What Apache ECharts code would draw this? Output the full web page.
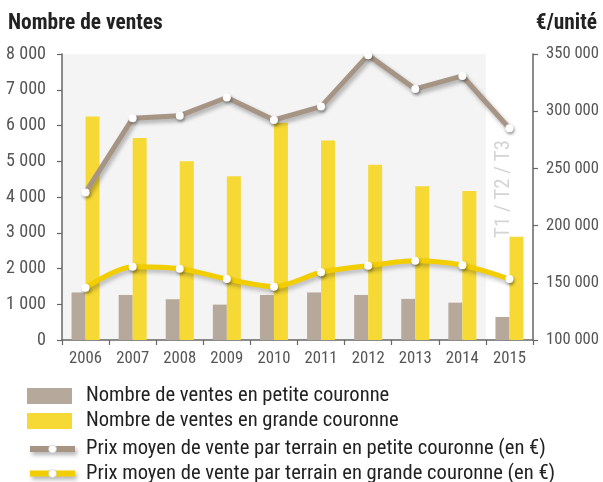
<!DOCTYPE html>
<html>
<head>
<meta charset="utf-8">
<script src="https://cdn.jsdelivr.net/npm/echarts@6/dist/echarts.min.js"></script>
<style>
html,body{margin:0;padding:0;background:#fff;}
#c{width:603px;height:482px;}
</style>
</head>
<body>
<div id="c"></div>
<script>
var years = ['2006','2007','2008','2009','2010','2011','2012','2013','2014','2015'];
var ventesPetite = [1330,1260,1140,990,1260,1330,1260,1150,1045,645];
var ventesGrande = [6250,5650,5000,4580,6080,5580,4900,4300,4170,2885];
var prixPetite = [229000,293800,296100,312000,292300,304000,349000,319400,330800,285000];
var prixGrande = [145700,164100,162300,153300,146600,159200,165000,169300,165300,153300];
var leftTicks = {min:0, max:8000, interval:1000};
var rightTicks = {min:100000, max:350000, interval:50000};

var FONT = "'Liberation Sans Narrow','Roboto Condensed',Roboto,sans-serif";
function fmt(v){ return String(v).replace(/\B(?=(\d{3})+(?!\d))/g, ' '); }

// choose a font size so that a text gets the width it has in the reference
var mctx = document.createElement('canvas').getContext('2d');
function fit(text, weight, target){
  mctx.font = weight + ' 100px ' + FONT;
  return Math.round(100 * target / mctx.measureText(text).width * 10) / 10;
}

var names = [
  'Nombre de ventes en petite couronne',
  'Nombre de ventes en grande couronne',
  'Prix moyen de vente par terrain en petite couronne (en €)',
  'Prix moyen de vente par terrain en grande couronne (en €)'
];
var shadeColors = [];
for (var i = 0; i < years.length - 1; i++) shadeColors.push('#f4f4f4');
shadeColors.push('rgba(255,255,255,0)');

var titleSize = fit('Nombre de ventes', 'bold', 155);
var leftSize = fit('8 000', 'normal', 40);
var rightSize = fit('350 000', 'normal', 53);
var xSize = fit('2006', 'normal', 33);
var legendSize = fit(names[3], 'normal', 470);
var tSize = fit('T1 / T2 / T3', 'normal', 98);

var lineShadow = {shadowColor:'rgba(0,0,0,0.3)', shadowBlur:4, shadowOffsetX:2, shadowOffsetY:3};
var legendRows = [393.5, 418.5, 443.5, 468];
var legendItems = [
  {name:names[0], icon:'rect'},
  {name:names[1], icon:'rect'},
  {name:names[2], lineStyle:Object.assign({width:6, color:'#a69585'}, lineShadow),
   itemStyle:{color:'#fff', borderColor:'#bbb', borderWidth:0.5}},
  {name:names[3], lineStyle:Object.assign({width:6, color:'#f2ce00'}, lineShadow),
   itemStyle:{color:'#fff', borderColor:'#bbb', borderWidth:0.5}}
];
var legends = legendItems.map(function(item, k){
  var h = k < 2 ? 16 : 10;
  return {
    orient:'vertical', left:27, top:legendRows[k] - h / 2, padding:0,
    itemWidth:45, itemHeight:h,
    textStyle:{fontFamily:FONT, fontSize:legendSize, lineHeight:h, color:'#222',
               padding:[0,0,0,k < 2 ? 9 : 6], verticalAlign:'middle'},
    data:[item]
  };
});

var chart = echarts.init(document.getElementById('c'), null, {renderer:'canvas'});
chart.setOption({
  animation:false,
  textStyle:{fontFamily:FONT},
  title:[
    {text:'Nombre de ventes', left:8, top:13, padding:0,
     textStyle:{fontFamily:FONT, fontWeight:'bold', fontSize:titleSize, color:'#222'}},
    {text:'€/unité', right:6, top:13, padding:0,
     textStyle:{fontFamily:FONT, fontWeight:'bold', fontSize:titleSize, color:'#222'}}
  ],
  grid:{left:62, right:70, top:54, bottom:142, containLabel:false},
  legend:legends,
  graphic:[{
    type:'text', x:504, y:189, rotation:Math.PI/2, z:100,
    style:{text:'T1 / T2 / T3', fontFamily:FONT, fontSize:tSize, fill:'#d4d4d4',
           align:'center', verticalAlign:'middle'}
  }],
  xAxis:{
    type:'category', data:years, boundaryGap:true,
    axisLine:{lineStyle:{color:'#666', width:1.5}},
    axisTick:{show:true, length:5, lineStyle:{color:'#666', width:1.2}},
    axisLabel:{fontFamily:FONT, fontSize:xSize, color:'#555', margin:10, interval:0},
    splitArea:{show:true, areaStyle:{color:shadeColors}},
    splitLine:{show:false}
  },
  yAxis:[
    {type:'value', min:leftTicks.min, max:leftTicks.max, interval:leftTicks.interval,
     axisLine:{show:true, lineStyle:{color:'#666', width:1.5}},
     axisTick:{show:true, length:5, lineStyle:{color:'#666', width:1.2}},
     axisLabel:{fontFamily:FONT, fontSize:leftSize, color:'#555', margin:16, formatter:fmt},
     splitLine:{show:false}},
    {type:'value', position:'right', min:rightTicks.min, max:rightTicks.max, interval:rightTicks.interval,
     axisLine:{show:true, lineStyle:{color:'#666', width:1.5}},
     axisTick:{show:true, length:5, lineStyle:{color:'#666', width:1.2}},
     axisLabel:{fontFamily:FONT, fontSize:rightSize, color:'#555', margin:13, formatter:fmt},
     splitLine:{show:false}}
  ],
  series:[
    {name:names[0], type:'bar', yAxisIndex:0, data:ventesPetite, barWidth:14, barGap:'0%',
     itemStyle:{color:'#b6a99c'}},
    {name:names[1], type:'bar', yAxisIndex:0, data:ventesGrande, barWidth:14, barGap:'0%',
     itemStyle:{color:'#f6d935'}},
    {name:names[2], type:'line', yAxisIndex:1, data:prixPetite, symbol:'circle', symbolSize:8,
     lineStyle:Object.assign({color:'#a69585', width:5}, lineShadow),
     itemStyle:{color:'#ffffff', borderWidth:0, shadowColor:'rgba(0,0,0,0.35)', shadowBlur:3, shadowOffsetX:1, shadowOffsetY:2},
     z:5},
    {name:names[3], type:'line', yAxisIndex:1, data:prixGrande, symbol:'circle', symbolSize:8, smooth:0.3,
     lineStyle:Object.assign({color:'#f2ce00', width:5}, lineShadow, {shadowColor:'rgba(0,0,0,0.25)'}),
     itemStyle:{color:'#ffffff', borderWidth:0, shadowColor:'rgba(0,0,0,0.35)', shadowBlur:3, shadowOffsetX:1, shadowOffsetY:2},
     z:5}
  ]
});
</script>
</body>
</html>
